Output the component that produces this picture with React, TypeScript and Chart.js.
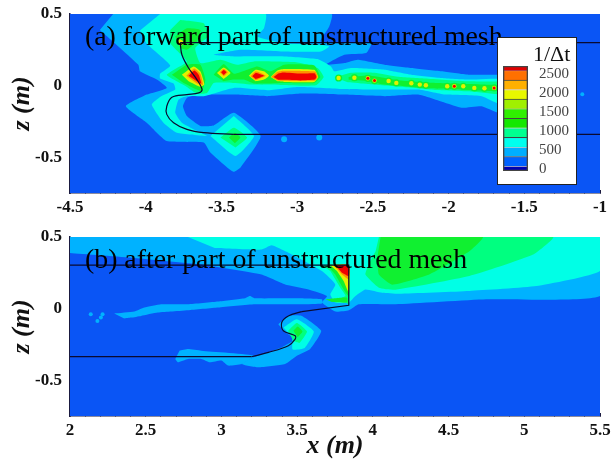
import React, { useEffect, useRef } from "react";
import { Chart, registerables } from "chart.js";
Chart.register(...registerables);

type P = [number, number];
const SERIF = "'Liberation Serif', serif";

// ---------- colours of the contour levels ----------
const cBase = "#0A55F5", cLight = "#00B2FF", cCyan = "#00FFE6", cSpring = "#00FF80", cGreen = "#10F030",
  cYellow = "#E4F000", cOrange = "#FF9000", cRed = "#F00000";

// ---------- axis ticks ----------
const zTicks = [-0.7, -0.6, -0.5, -0.4, -0.3, -0.2, -0.1, 0, 0.1, 0.2, 0.3, 0.4, 0.5];
const zLabels = [-0.5, 0, 0.5];
const xTicksA = [-4.5, -4.4, -4.3, -4.2, -4.1, -4, -3.9, -3.8, -3.7, -3.6, -3.5, -3.4, -3.3, -3.2, -3.1, -3, -2.9, -2.8, -2.7, -2.6, -2.5, -2.4, -2.3, -2.2, -2.1, -2, -1.9, -1.8, -1.7, -1.6, -1.5, -1.4, -1.3, -1.2, -1.1, -1];
const xLabelsA = [-4.5, -4, -3.5, -3, -2.5, -2, -1.5, -1];
const xTicksB = [2, 2.1, 2.2, 2.3, 2.4, 2.5, 2.6, 2.7, 2.8, 2.9, 3, 3.1, 3.2, 3.3, 3.4, 3.5, 3.6, 3.7, 3.8, 3.9, 4, 4.1, 4.2, 4.3, 4.4, 4.5, 4.6, 4.7, 4.8, 4.9, 5, 5.1, 5.2, 5.3, 5.4, 5.5];
const xLabelsB = [2, 2.5, 3, 3.5, 4, 4.5, 5, 5.5];

// ---------- legend ----------
const legendTicks = [0, 500, 1000, 1500, 2000, 2500];
const legendEdges = [-43, 85, 335, 585, 835, 1085, 1335, 1585, 1835, 2085, 2335, 2585, 2700];
const legendColors = ["#0000B0", "#0062FF", "#00AEFF", "#00FFEE", "#00FF90", "#14E800", "#30F000", "#A0F000", "#E8F800", "#FFB000", "#FF7000", "#E00000"];

// ---------- panel (a): contour regions, (x, z) in metres ----------
const aLight: P[] = [[-4.215, .5], [-2.772, .5], [-2.788, .412], [-2.847, .308], [-2.754, .3], [-2.511, .296], [-2.544, .227], [-2.688, .215], [-2.81, .146], [-2.688, .157], [-2.6, .181], [-2.423, .146], [-2.246, .123], [-2.046, .1], [-1.869, .076], [-1.67, .076], [-1.515, .053], [-1.515, -.167], [-1.67, -.19], [-1.781, -.144], [-1.914, -.155], [-2.024, -.12], [-2.201, -.063], [-2.423, -.074], [-2.71, -.063], [-2.976, -.056], [-3.197, -.074], [-3.418, -.063], [-3.639, -.063], [-3.728, -.086], [-3.754, -.144], [-3.728, -.213], [-3.639, -.282], [-3.551, -.278], [-3.418, -.19], [-3.241, -.352], [-3.374, -.572], [-3.418, -.602], [-3.462, -.572], [-3.573, -.468], [-3.617, -.398], [-3.861, -.387], [-3.993, -.259], [-4.131, -.144], [-3.993, -.063], [-3.861, -.016], [-3.927, .042], [-4.038, .1], [-4.049, .146], [-4.303, .389]];
const aCyan: P[] = [[-3.905, .5], [-3.208, .5], [-3.219, .4], [-3.263, .343], [-3.086, .296], [-2.843, .285], [-2.788, .273], [-2.843, .238], [-3.086, .238], [-3.374, .25], [-3.551, .215], [-3.418, .204], [-3.086, .204], [-2.865, .185], [-2.777, .134], [-2.754, .1], [-2.644, .123], [-2.423, .111], [-2.246, .076], [-2.046, .053], [-1.869, .042], [-1.515, .042], [-1.515, -.12], [-1.67, -.125], [-1.781, -.074], [-2.024, -.063], [-2.201, -.028], [-2.423, -.028], [-2.71, -.023], [-2.998, -.009], [-3.197, -.032], [-3.418, -.016], [-3.617, -.074], [-3.728, -.074], [-3.783, -.097], [-3.805, -.19], [-3.761, -.259], [-3.639, -.329], [-3.595, -.352], [-3.794, -.329], [-3.883, -.259], [-3.96, -.132], [-3.905, -.079], [-3.805, -.028], [-3.816, .014], [-3.905, .049], [-3.905, .083], [-3.838, .141], [-3.993, .292], [-4.038, .384]];
const aCyanLobe: P[] = [[-3.418, -.213], [-3.285, -.352], [-3.407, -.491], [-3.573, -.352]];
const aSpringHead: P[] = [[-3.772, .458], [-3.617, .435], [-3.591, .343], [-3.673, .262], [-3.639, .157], [-3.507, .181], [-3.396, .146], [-3.285, .169], [-2.998, .162], [-2.865, .123], [-2.825, .06], [-2.876, .002], [-3.108, .005], [-3.285, .007], [-3.418, .019], [-3.551, .019], [-3.595, -.051], [-3.662, -.056], [-3.728, -.009], [-3.816, .042], [-3.861, .076], [-3.794, .123], [-3.728, .169], [-3.838, .296], [-3.838, .389]];
const aSpringWake: P[] = [[-2.754, .058], [-2.644, .09], [-2.489, .09], [-2.334, .062], [-2.157, .05], [-1.869, .03], [-1.67, .028], [-1.515, .028], [-1.515, -.07], [-1.67, -.062], [-1.869, -.04], [-2.091, -.03], [-2.312, -.008], [-2.533, .012], [-2.666, .024]];
const aGreenWake: P[] = [[-2.66, .06], [-2.53, .07], [-2.45, .058], [-2.34, .038], [-2.15, .022], [-1.96, .014], [-1.7, .004], [-1.6, .004], [-1.6, -.036], [-1.83, -.034], [-1.96, -.024], [-2.15, -.018], [-2.34, 0], [-2.45, .012], [-2.53, .03], [-2.66, .04]];
const aSpringLobe: P[] = [[-3.507, -.363], [-3.418, -.294], [-3.33, -.363], [-3.407, -.433]];
const aGreenLobe: P[] = [[-3.805, .343], [-3.728, .4], [-3.639, .389], [-3.662, .308], [-3.728, .25], [-3.772, .262]];
const aGreenHead: P[] = [[-3.827, .076], [-3.728, .146], [-3.639, .146], [-3.606, .042], [-3.628, -.039], [-3.662, -.028], [-3.75, .019]];
const aGreenStreak: P[] = [[-3.551, .076], [-3.485, .15], [-3.418, .083], [-3.33, .111], [-3.263, .134], [-3.175, .1], [-3.086, .146], [-2.887, .141], [-2.847, .06], [-2.887, .019], [-3.086, .019], [-3.219, .014], [-3.285, .014], [-3.352, .042], [-3.418, .042], [-3.485, .03]];
const aGreenSpot: P[] = [[-3.451, -.363], [-3.411, -.329], [-3.374, -.363], [-3.411, -.403]];
const aYellowHead: P[] = [[-3.761, .076], [-3.684, .134], [-3.639, .1], [-3.613, .007], [-3.639, -.009], [-3.717, .03]];
const aYellowA: P[] = [[-3.529, .088], [-3.485, .127], [-3.44, .088], [-3.485, .046]];
const aYellowB: P[] = [[-3.319, .069], [-3.274, .111], [-3.219, .1], [-3.186, .069], [-3.219, .042], [-3.274, .03]];
const aYellowC: P[] = [[-3.175, .06], [-3.13, .106], [-3.086, .116], [-2.887, .11], [-2.861, .06], [-2.887, .026], [-3.086, .026], [-3.13, .03]];
const aYellowLobe: P[] = [[-3.794, .308], [-3.772, .324], [-3.746, .3], [-3.772, .273]];
const aOrangeHead: P[] = [[-3.732, .069], [-3.679, .12], [-3.639, .083], [-3.622, .005], [-3.662, .014]];
const aOrangeA: P[] = [[-3.511, .093], [-3.485, .118], [-3.458, .093], [-3.485, .065]];
const aOrangeB: P[] = [[-3.308, .065], [-3.274, .1], [-3.208, .069], [-3.274, .037]];
const aOrangeC: P[] = [[-3.17, .06], [-3.13, .096], [-3.09, .104], [-2.88, .098], [-2.865, .06], [-2.88, .036], [-3.09, .033], [-3.13, .036]];
const aRedHead: P[] = [[-3.717, .069], [-3.679, .106], [-3.65, .076], [-3.633, .014], [-3.662, .03]];
const aRedA: P[] = [[-3.502, .093], [-3.485, .109], [-3.467, .093], [-3.485, .074]];
const aRedB: P[] = [[-3.296, .065], [-3.274, .088], [-3.219, .069], [-3.274, .046]];
const aRedC: P[] = [[-3.155, .06], [-3.125, .085], [-3.09, .092], [-2.976, .084], [-2.885, .086], [-2.872, .06], [-2.885, .042], [-2.976, .036], [-3.09, .04], [-3.125, .04]];
// small spots in the wake of panel (a)
const aWakeSpots: P[] = [[-2.726, .053], [-2.622, .055], [-2.533, .051], [-2.489, .035], [-2.396, .032], [-2.345, .019], [-2.246, .016], [-2.19, .007], [-2.15, .002], [-2.009, -.005], [-1.962, -.005], [-1.903, -.005], [-1.83, -.016], [-1.763, -.019], [-1.699, -.016]];
const aWakeHot: P[] = [[-2.533, .051], [-2.489, .035], [-1.962, -.005], [-1.699, -.016]];
const aLightSpots: P[] = [[-3.086, -.375], [-2.854, -.363]];
const aLightDot: P[] = [[-1.117, -.06]];
// hull outline of panel (a)
const aTopLine: P[] = [[-3.772, .3], [-1, .3]];
const aHullCurve: P[] = [[-3.772, .3], [-3.761, .215], [-3.717, .123], [-3.662, .042], [-3.628, -.028], [-3.65, -.051], [-3.728, -.063], [-3.827, -.081], [-3.861, -.144], [-3.861, -.201], [-3.816, -.259], [-3.728, -.306], [-3.617, -.329], [-3.418, -.34]];
const aKeelLine: P[] = [[-3.418, -.34], [-1, -.34]];

// ---------- panel (b) ----------
const bLight: P[] = [[2, .5], [5.5, .5], [5.5, .088], [4.748, .065], [4.15, .03], [3.907, .03], [3.841, -.012], [3.752, -.021], [3.664, .042], [3.697, .088], [3.575, .134], [3.42, .169], [3.265, .238], [2.867, .308], [2.425, .354], [2, .389]];
const bCyan: P[] = [[2.779, .5], [5.5, .5], [5.5, .262], [5.08, .157], [4.637, .123], [4.173, .104], [4.062, .111], [3.951, .134], [3.885, .088], [3.841, .042], [3.752, .042], [3.719, .1], [3.752, .169], [3.664, .262], [3.487, .366], [3.332, .442], [3.265, .412], [2.956, .424]];
const bSpring: P[] = [[4.04, .5], [5.19, .5], [5.058, .377], [4.637, .227], [4.15, .132], [4.04, .146], [3.951, .238], [3.973, .308], [4.018, .4]];
const bGreen: P[] = [[4.051, .5], [4.726, .5], [4.637, .4], [4.372, .238], [4.128, .167], [4.04, .238], [4.029, .354]];
const bHeadSpring: P[] = [[3.664, .303], [3.841, .303], [3.841, .03], [3.796, .065], [3.719, .053], [3.819, .088], [3.785, .146], [3.719, .262]];
const bHeadGreen: P[] = [[3.697, .303], [3.841, .303], [3.841, .088], [3.807, .134], [3.752, .238]];
const bHeadYellow: P[] = [[3.719, .303], [3.841, .303], [3.841, .111], [3.807, .192], [3.763, .262]];
const bHeadOrange: P[] = [[3.741, .303], [3.841, .303], [3.841, .204], [3.796, .238]];
const bHeadRed: P[] = [[3.752, .303], [3.841, .303], [3.841, .227], [3.796, .25]];
const bHeadStreak: P[] = [[3.686, .065], [3.752, .072], [3.83, .076], [3.83, .042], [3.73, .046]];
const bLobeLight: P[] = [[3.376, -.109], [3.442, -.051], [3.531, -.051], [3.659, -.155], [3.586, -.282], [3.498, -.329], [3.42, -.387], [3.243, -.41], [3.133, -.387], [3.221, -.336], [3.398, -.271], [3.487, -.213], [3.42, -.167]];
const bLobeCyan: P[] = [[3.41, -.132], [3.498, -.075], [3.61, -.16], [3.55, -.275], [3.47, -.285], [3.47, -.201]];
const bLobeSpring: P[] = [[3.44, -.155], [3.498, -.1], [3.565, -.16], [3.515, -.24], [3.475, -.225]];
const bLobeGreen: P[] = [[3.475, -.155], [3.504, -.125], [3.535, -.16], [3.504, -.2]];
const bStreakLow: P[] = [[2.723, -.294], [2.779, -.282], [2.867, -.294], [3.221, -.329], [3.133, -.387], [3.044, -.398], [3, -.363], [2.923, -.375], [2.867, -.352], [2.779, -.352], [2.712, -.375], [2.695, -.352]];
const bStreakHigh: P[] = [[2.292, -.035], [2.425, -.021], [2.491, .007], [2.602, .03], [2.779, .03], [2.978, .049], [3.155, .072], [3.188, .088], [3.221, .072], [3.487, .072], [3.664, .065], [3.664, .035], [3.531, .03], [3.221, .03], [2.978, .007], [2.779, -.012], [2.668, -.021], [2.58, -.028], [2.469, -.051], [2.403, -.063], [2.358, -.069]];
const bLightSpots: P[] = [[2.137, -.039], [2.204, -.063], [2.215, -.039], [2.181, -.086]];
const bTopLine: P[] = [[2, .303], [3.841, .303], [3.841, .023], [3.531, -.021]];
const bHullCurve: P[] = [[3.531, -.021], [3.442, -.051], [3.398, -.097], [3.409, -.155], [3.487, -.19], [3.487, -.213], [3.442, -.259], [3.31, -.306], [3.199, -.336]];
const bKeelLine: P[] = [[3.199, -.336], [2, -.336]];

type Region = [P[], string];
const regionsA: Region[] = [[aLight, cLight], [aCyan, cCyan], [aCyanLobe, cCyan], [aSpringHead, cSpring], [aSpringWake, cSpring], [aGreenWake, cGreen], [aSpringLobe, cSpring], [aGreenLobe, cGreen], [aGreenHead, cGreen], [aGreenStreak, cGreen], [aGreenSpot, cGreen], [aYellowHead, cYellow], [aYellowA, cYellow], [aYellowB, cYellow], [aYellowC, cYellow], [aYellowLobe, cYellow], [aOrangeHead, cOrange], [aOrangeA, cOrange], [aOrangeB, cOrange], [aOrangeC, cOrange], [aRedHead, cRed], [aRedA, cRed], [aRedB, cRed], [aRedC, cRed]];
const regionsB: Region[] = [[bLight, cLight], [bCyan, cCyan], [bSpring, cSpring], [bGreen, cGreen], [bStreakHigh, cLight], [bStreakLow, cLight], [bLobeLight, cLight], [bLobeCyan, cCyan], [bLobeSpring, cSpring], [bLobeGreen, cGreen], [bHeadSpring, cSpring], [bHeadStreak, cGreen], [bHeadGreen, cGreen], [bHeadYellow, cYellow], [bHeadOrange, cOrange], [bHeadRed, cRed]];

const toXY = (p: P[]) => p.map(([x, y]) => ({ x, y }));

function makeDatasets(xMin: number, xMax: number, regions: Region[], spots: [P[], string, number][], lines: [P[], number][]) {
  const ds: any[] = [];
  const background: P[] = [[xMin, 0.5], [xMax, 0.5], [xMax, -0.75], [xMin, -0.75]];
  ds.push({ data: toXY(background), showLine: true, fill: "shape", backgroundColor: cBase, borderColor: cBase, borderWidth: 0, pointRadius: 0, tension: 0 });
  regions.forEach(([pts, color]) => {
    ds.push({ data: toXY(pts), showLine: true, fill: "shape", backgroundColor: color, borderColor: color, borderWidth: 0, pointRadius: 0, tension: 0.15 });
  });
  spots.forEach(([pts, color, radius]) => {
    ds.push({ data: toXY(pts), showLine: false, pointStyle: "circle", pointRadius: radius, pointBackgroundColor: color, pointBorderWidth: 0 });
  });
  lines.forEach(([pts, tension]) => {
    ds.push({ data: toXY(pts), showLine: true, fill: false, borderColor: "#0A0A30", borderWidth: 1.2, pointRadius: 0, tension });
  });
  const n = ds.length;
  ds.forEach((d, i) => { d.order = n - i; });
  return ds;
}

const zeroMargins = (s: any) => { s.paddingTop = 0; s.paddingBottom = 0; s.paddingLeft = 0; s.paddingRight = 0; };

function panelOptions(xMin: number, xMax: number, xT: number[], xL: number[], top: number, xHeight: number, xTitle?: string) {
  const tickFont = { family: SERIF, size: 17, weight: "bold" as const };
  const axisCol = "#1A1A40";
  return {
    responsive: false,
    animation: false as const,
    layout: { padding: { left: 0, right: 13, top, bottom: 0 } },
    plugins: { legend: { display: false }, tooltip: { enabled: false } },
    scales: {
      x: {
        type: "linear" as const, min: xMin, max: xMax,
        afterBuildTicks: (s: any) => { s.ticks = xT.map((value) => ({ value })); },
        afterFit: (s: any) => { s.height = xHeight; zeroMargins(s); },
        grid: { drawOnChartArea: false, drawTicks: true, tickLength: -3, tickColor: axisCol, lineWidth: 1 },
        border: { display: true, color: axisCol, width: 1.5 },
        ticks: { autoSkip: false, maxRotation: 0, padding: 7, color: "#111", font: tickFont, callback: (v: any) => (xL.includes(v) ? String(v) : "") },
        title: xTitle ? { display: true, text: xTitle, color: "#111", font: { family: SERIF, size: 26, style: "italic" as const, weight: "bold" as const, lineHeight: 1 }, padding: { top: -2, bottom: 0 } } : { display: false },
      },
      y: {
        type: "linear" as const, min: -0.75, max: 0.5,
        afterBuildTicks: (s: any) => { s.ticks = zTicks.map((value) => ({ value })); },
        afterFit: (s: any) => { s.width = 70; zeroMargins(s); },
        grid: { drawOnChartArea: false, drawTicks: true, tickLength: -3, tickColor: axisCol, lineWidth: 1 },
        border: { display: true, color: axisCol, width: 1.5 },
        ticks: { autoSkip: false, padding: 11, color: "#111", font: tickFont, callback: (v: any) => (zLabels.includes(v) ? String(v) : "") },
        title: { display: true, text: "z (m)", color: "#111", font: { family: SERIF, size: 26, style: "italic" as const, weight: "bold" as const, lineHeight: 1 }, padding: { top: 9, bottom: 0 } },
      },
    },
  };
}

const soft = "blur(0.55px)";

export default function App() {
  const refA = useRef<HTMLCanvasElement>(null);
  const refB = useRef<HTMLCanvasElement>(null);
  const refL = useRef<HTMLCanvasElement>(null);

  useEffect(() => {
    const a = new Chart(refA.current!, {
      type: "scatter",
      data: {
        datasets: makeDatasets(-4.5, -1, regionsA,
          [[aLightSpots, cLight, 3], [aLightDot, cLight, 2], [aWakeSpots, cGreen, 3.6], [aWakeSpots, cYellow, 2.2], [aWakeHot, cRed, 1.5]],
          [[aTopLine, 0], [aHullCurve, 0.35], [aKeelLine, 0]]),
      },
      options: panelOptions(-4.5, -1, xTicksA, xLabelsA, 14, 32) as any,
    });
    const b = new Chart(refB.current!, {
      type: "scatter",
      data: {
        datasets: makeDatasets(2, 5.5, regionsB,
          [[bLightSpots, cLight, 2]],
          [[bTopLine, 0], [bHullCurve, 0.35], [bKeelLine, 0]]),
      },
      options: panelOptions(2, 5.5, xTicksB, xLabelsB, 12, 43, "x (m)") as any,
    });
    const bands = legendColors.map((color, i) => ({
      data: [[legendEdges[i], legendEdges[i + 1]]],
      backgroundColor: color,
      grouped: false,
      barPercentage: 1,
      categoryPercentage: 1,
      borderColor: i % 2 === 1 ? "rgba(50,50,50,0.9)" : "rgba(50,50,50,0.25)",
      borderWidth: { top: i < legendColors.length - 1 ? 1 : 0, bottom: 0, left: 0, right: 0 },
      borderSkipped: false,
    }));
    const outline = {
      data: [[legendEdges[0], legendEdges[legendEdges.length - 1]]],
      backgroundColor: "rgba(0,0,0,0)",
      grouped: false,
      barPercentage: 1,
      categoryPercentage: 1,
      borderColor: "#444",
      borderWidth: 1,
      borderSkipped: false,
    };
    const l = new Chart(refL.current!, {
      type: "bar",
      data: { labels: ["1/Δt"], datasets: [outline, ...bands] as any },
      options: {
        responsive: false,
        animation: false,
        layout: { padding: { left: 5, right: 0, top: 28, bottom: 13 } },
        plugins: { legend: { display: false }, tooltip: { enabled: false } },
        scales: {
          x: { display: false },
          y: {
            position: "right",
            min: legendEdges[0],
            max: legendEdges[legendEdges.length - 1],
            afterBuildTicks: (s: any) => { s.ticks = legendTicks.map((value) => ({ value })); },
            afterFit: (s: any) => { s.width = 48; zeroMargins(s); },
            grid: { display: false, drawTicks: false },
            border: { display: false },
            ticks: { padding: 11, color: "#444", font: { family: SERIF, size: 15 }, callback: (v: any) => String(v) },
          },
        },
      } as any,
    });
    return () => { a.destroy(); b.destroy(); l.destroy(); };
  }, []);

  const note = (text: string, top: number) => (
    <div style={{ position: "absolute", left: 85, top, fontFamily: SERIF, fontSize: 27.8, lineHeight: 1, color: "#000", whiteSpace: "nowrap", filter: soft }}>{text}</div>
  );

  return (
    <div style={{ position: "absolute", left: 0, top: 0, width: 613, height: 459, background: "#fff", overflow: "hidden" }}>
      <canvas ref={refA} width={613} height={225} style={{ position: "absolute", left: 0, top: 0, filter: soft }} />
      <canvas ref={refB} width={613} height={234} style={{ position: "absolute", left: 0, top: 225, filter: soft }} />
      {note("(a) forward part of unstructured mesh", 22)}
      {note("(b) after part of unstructured mesh", 245)}
      <div style={{ position: "absolute", left: 497, top: 37, width: 80, height: 148, boxSizing: "border-box", border: "1px solid #222", background: "#fff", filter: soft }}>
        <canvas ref={refL} width={78} height={146} style={{ position: "absolute", left: 0, top: 0 }} />
        <div style={{ position: "absolute", left: 35, top: 5, fontFamily: SERIF, fontSize: 22, lineHeight: 1, color: "#111", whiteSpace: "nowrap" }}>1/Δt</div>
      </div>
    </div>
  );
}
